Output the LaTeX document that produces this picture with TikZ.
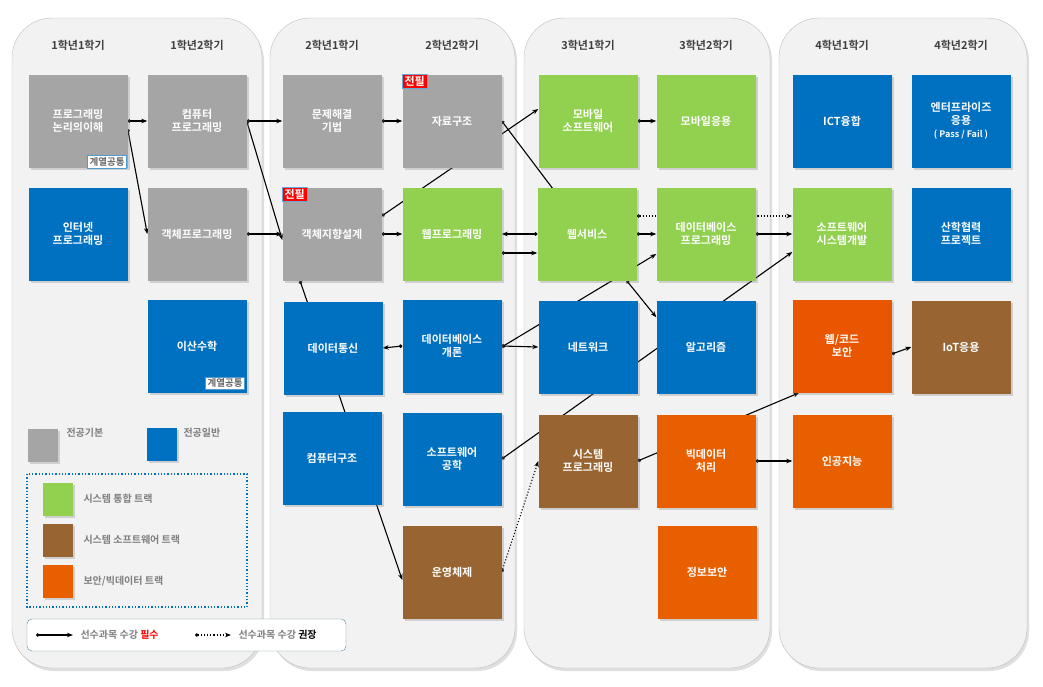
\documentclass[tikz,border=0pt]{standalone}
\usepackage{fontspec}
\setmainfont{Noto Sans CJK KR}[BoldFont=* Bold]
\usetikzlibrary{arrows.meta,shadows,positioning}
\pgfdeclarelayer{bg}
\pgfdeclarelayer{links}
\pgfsetlayers{bg,links,main}
\definecolor{kgray}{HTML}{A5A5A5}
\definecolor{kblue}{HTML}{0070C0}
\definecolor{kgreen}{HTML}{92D050}
\definecolor{kbrown}{HTML}{986532}
\definecolor{korange}{HTML}{E85F00}
\definecolor{kpanel}{HTML}{F2F2F2}
\definecolor{ktext}{HTML}{7F7F7F}
\tikzset{
  box/.style={minimum width=99pt,minimum height=93pt,inner sep=0pt,align=center,
    text=white,font=\fontsize{11}{13}\selectfont\bfseries,
    drop shadow={opacity=0.3,shadow xshift=2pt,shadow yshift=-2pt}},
  basic/.style={box,fill=kgray},
  general/.style={box,fill=kblue},
  integ/.style={box,fill=kgreen},
  syssw/.style={box,fill=kbrown},
  secu/.style={box,fill=korange},
  panel/.style={fill=kpanel,draw=black!25,rounded corners=40pt,
    drop shadow={opacity=0.25,shadow xshift=2pt,shadow yshift=-3pt}},
  term/.style={font=\fontsize{11}{13}\selectfont\bfseries,text=black!75},
  reqtag/.style={fill=red,draw=kblue!60,text=white,inner sep=2pt,
    font=\fontsize{11}{12}\selectfont\bfseries,anchor=north west},
  commontag/.style={fill=white,draw=kblue!70,text=black!60,inner sep=2pt,
    font=\fontsize{9.5}{11}\selectfont\bfseries,anchor=south east},
  legsq/.style={minimum width=30pt,minimum height=33pt,inner sep=0pt,
    drop shadow={opacity=0.3,shadow xshift=2pt,shadow yshift=-2pt}},
  legtext/.style={font=\fontsize{10}{12}\selectfont\bfseries,text=ktext,anchor=west},
  must/.style={line width=1.1pt,{Circle[length=3.5pt]}-{Stealth[length=6pt]}},
  rec/.style={must,dotted}
}
\begin{document}
\begin{tikzpicture}[x=1pt,y=-1pt]
\useasboundingbox (0,0) rectangle (1043,686);
% panels
\begin{pgfonlayer}{bg}
\fill[white] (0,0) rectangle (1043,686);
\draw[panel] (12,18) rectangle (262,668);
\draw[panel] (270,18) rectangle (515,668);
\draw[panel] (524,18) rectangle (770,668);
\draw[panel] (779,18) rectangle (1027,668);
\end{pgfonlayer}
% semester headers
\node[term] at (78,45) {1학년1학기};
\node[term] at (197,45) {1학년2학기};
\node[term] at (332,45) {2학년1학기};
\node[term] at (452,45) {2학년2학기};
\node[term] at (588,45) {3학년1학기};
\node[term] at (706,45) {3학년2학기};
\node[term] at (842,45) {4학년1학기};
\node[term] at (961,45) {4학년2학기};
% year 1
\node[basic] (logic) at (78,121) {프로그래밍\\논리의이해};
\node[general] (internet) at (78,234) {인터넷\\프로그래밍};
\node[basic] (comprog) at (197,121) {컴퓨터\\프로그래밍};
\node[basic] (objprog) at (197,234) {객체프로그래밍};
\node[general] (discrete) at (197,346) {이산수학};
\node[commontag] at ([xshift=-1pt,yshift=-1pt]logic.south east) {계열공통};
\node[commontag] at ([xshift=-2pt,yshift=3pt]discrete.south east) {계열공통};
% year 2
\node[basic] (problem) at (332,121) {문제해결\\기법};
\node[basic] (ood) at (332,234) {객체지향설계};
\node[general] (datacomm) at (333,348) {데이터통신};
\node[general] (comparch) at (332,458) {컴퓨터구조};
\node[basic] (datastruct) at (452,121) {자료구조};
\node[integ] (webprog) at (452,234) {웹프로그래밍};
\node[general] (dbintro) at (452,346) {데이터베이스\\개론};
\node[general] (sweng) at (452,459) {소프트웨어\\공학};
\node[syssw] (os) at (452,572) {운영체제};
\node[reqtag] at (ood.north west) {전필};
\node[reqtag] at (datastruct.north west) {전필};
% year 3
\node[integ] (mobilesw) at (588,121) {모바일\\소프트웨어};
\node[integ] (websvc) at (587,234) {웹서비스};
\node[general] (network) at (588,347) {네트워크};
\node[syssw] (sysprog) at (588,461) {시스템\\프로그래밍};
\node[integ] (mobileapp) at (706,121) {모바일응용};
\node[integ] (dbprog) at (706,234) {데이터베이스\\프로그래밍};
\node[general] (algo) at (706,347) {알고리즘};
\node[secu] (bigdata) at (706,461) {빅데이터\\처리};
\node[secu] (infosec) at (707,572) {정보보안};
% year 4
\node[general] (ict) at (842,121) {ICT융합};
\node[integ] (swsys) at (842,234) {소프트웨어\\시스템개발};
\node[secu,fill=korange!90!red] (webcode) at (842,346) {웹/코드\\보안};
\node[secu] (ai) at (842,461) {인공지능};
\node[general] (enterprise) at (961,121) {엔터프라이즈\\응용\\{\fontsize{9}{11}\selectfont( Pass / Fail )}};
\node[general] (capstone) at (961,234) {산학협력\\프로젝트};
\node[syssw] (iot) at (961,347) {IoT응용};
% prerequisites
\begin{pgfonlayer}{links}
\draw[must] (logic.east) -- (comprog.west);
\draw[must] ([yshift=-8pt]logic.east) -- (objprog.west);
\draw[must] (comprog.east) -- (problem.west);
\draw[must] (comprog.east) -- ([yshift=-6pt]ood.west);
\draw[must] (problem.east) -- (datastruct.west);
\draw[must] (objprog.east) -- (ood.west);
\draw[must] (ood.east) -- (webprog.west);
\draw[must] ([yshift=18pt]ood.east) -- ([yshift=12pt]mobilesw.west);
\draw[must] (datastruct.east) -- (websvc.center);
\draw[must] (websvc.west) -- (webprog.east);
\draw[must] ([yshift=-19pt]webprog.east) -- ([yshift=-19pt]websvc.west);
\draw[must] (mobilesw.east) -- (mobileapp.west);
\draw[must] (websvc.east) -- (dbprog.west);
\draw[rec] ([yshift=18pt]websvc.east) -- ([yshift=18pt]swsys.west);
\draw[must] (dbprog.east) -- (swsys.west);
\draw[must] ([xshift=-10pt]websvc.south east) -- ([yshift=-17pt]algo.north west);
\draw[must] (dbintro.east) -- (network.west);
\draw[must] (dbintro.west) -- (datacomm.east);
\draw[must] ([yshift=-1pt]dbintro.east) -- ([yshift=-20pt]dbprog.west);
\draw[must] ([xshift=-32pt]ood.south) -- ([yshift=-8pt]os.west);
\draw[rec] (os.east) -- (sysprog.west);
\draw[must] (sweng.east) -- ([yshift=-18pt]swsys.west);
\draw[must] (sysprog.east) -- ([xshift=7pt]webcode.south west);
\draw[must] (bigdata.east) -- (ai.west);
\draw[must] ([yshift=-8pt]webcode.east) -- (iot.west);
\end{pgfonlayer}
% legend
\node[legsq,fill=kgray] (lgbasic) at (43,445) {};
\node[legtext,anchor=north west] at (63,425) {전공기본};
\node[legsq,fill=kblue] (lggen) at (162,444) {};
\node[legtext,anchor=north west] at (180,425) {전공일반};
\draw[kblue,dotted,line width=1.3pt] (27,474) rectangle (247,607);
\node[legsq,fill=kgreen] (lginteg) at (58,499) {};
\node[legtext] at (80,499) {시스템 통합 트랙};
\node[legsq,fill=kbrown] (lgsyssw) at (58,540) {};
\node[legtext] at (80,540) {시스템 소프트웨어 트랙};
\node[legsq,fill=korange] (lgsecu) at (58,581) {};
\node[legtext] at (80,581) {보안/빅데이터 트랙};
\draw[fill=white,draw=kblue!50!black!60,rounded corners=5pt] (27,619) rectangle (346,651);
\coordinate (musta) at (36,635);
\coordinate (mustb) at (73,635);
\draw[must] (musta) -- (mustb);
\node[legtext] at (77,635) {선수과목 수강 \textcolor{red}{필수}};
\coordinate (reca) at (195,635);
\coordinate (recb) at (231,635);
\draw[rec] (reca) -- (recb);
\node[legtext] at (235,635) {선수과목 수강 \textcolor{black}{권장}};
\end{tikzpicture}
\end{document}
